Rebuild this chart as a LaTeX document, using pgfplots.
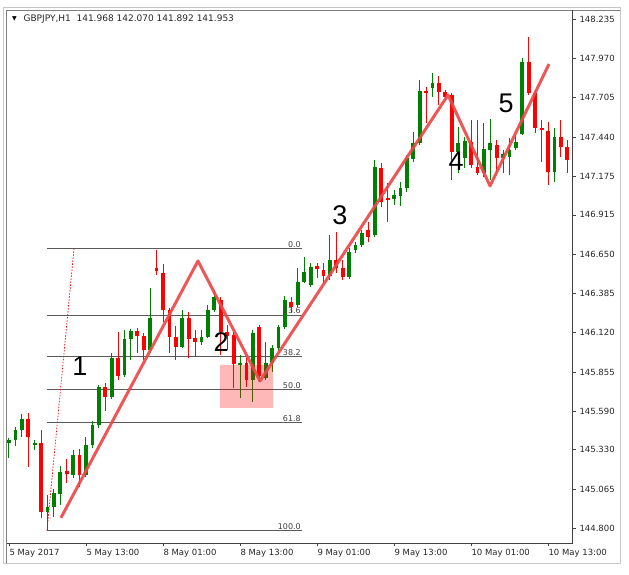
\documentclass[border=0pt]{standalone}
\usepackage{pgfplots}
\pgfplotsset{compat=1.18}
\usepackage{pgfplotstable}
\usepackage{fontspec}
\setmainfont{DejaVu Sans}
\newfontfamily\arialfont{Liberation Sans}
\definecolor{bull}{RGB}{0,128,0}
\definecolor{bear}{RGB}{255,0,0}
\definecolor{zig}{RGB}{234,74,74}
\definecolor{fibgray}{RGB}{90,90,90}

% GBPJPY H1 candles: index, open, high, low, close
\pgfplotstableread{
x o h l c
0 145.376 145.409 145.274 145.396
1 145.396 145.484 145.355 145.463
2 145.463 145.571 145.416 145.538
4 145.369 145.396 145.328 145.376
6 144.910 145.025 144.788 144.944
7 144.944 145.065 144.876 145.038
8 145.031 145.220 144.957 145.180
10 145.160 145.328 145.139 145.295
12 145.160 145.416 145.146 145.362
13 145.362 145.521 145.342 145.497
14 145.497 145.767 145.477 145.753
16 145.686 145.983 145.673 145.949
18 145.834 146.138 145.821 146.077
19 146.077 146.145 145.936 146.131
22 146.003 146.422 145.983 146.219
27 146.023 146.273 146.017 146.219
30 146.057 146.138 146.037 146.091
31 146.091 146.307 146.084 146.273
32 146.273 146.408 146.260 146.361
36 145.902 145.969 145.679 145.915
38 145.801 146.138 145.652 146.118
40 145.814 146.057 145.801 145.915
41 145.915 146.037 145.855 146.017
42 146.017 146.172 145.990 146.158
43 146.158 146.368 146.145 146.341
45 146.307 146.557 146.293 146.462
46 146.462 146.631 146.455 146.530
47 146.442 146.590 146.428 146.563
50 146.503 146.779 146.476 146.611
53 146.496 146.692 146.482 146.665
54 146.678 146.732 146.658 146.712
55 146.712 146.813 146.698 146.793
57 146.779 147.285 146.766 147.238
60 147.022 147.083 146.982 147.049
61 147.042 147.137 146.975 147.096
62 147.096 147.319 147.069 147.299
63 147.292 147.474 147.272 147.400
64 147.400 147.825 147.387 147.751
66 147.771 147.873 147.711 147.805
70 147.339 147.508 147.198 147.400
71 147.299 147.441 147.231 147.414
74 147.198 147.535 147.171 147.360
75 147.353 147.562 147.150 147.400
77 147.299 147.353 147.198 147.326
78 147.306 147.434 147.184 147.353
79 147.366 147.454 147.353 147.407
80 147.461 147.974 147.454 147.947
85 147.204 147.501 147.137 147.441
}\bulls

\pgfplotstableread{
x o h l c
3 145.538 145.578 145.214 145.416
5 145.376 145.463 144.869 144.910
9 145.187 145.268 145.106 145.166
11 145.295 145.335 145.079 145.160
15 145.753 145.780 145.592 145.686
17 145.949 146.125 145.801 145.828
20 146.131 146.152 145.983 146.098
21 146.098 146.118 145.936 146.003
23 146.557 146.678 146.509 146.536
24 146.523 146.584 146.192 146.273
25 146.273 146.287 145.983 146.091
26 146.091 146.165 145.936 146.023
28 146.219 146.260 145.949 146.077
29 146.084 146.138 145.956 146.057
33 146.341 146.361 145.969 146.125
34 146.125 146.172 146.003 146.098
35 146.104 146.125 145.747 145.909
37 145.915 145.949 145.753 145.801
39 146.158 146.172 145.787 145.828
44 146.327 146.361 146.253 146.293
48 146.570 146.590 146.489 146.550
49 146.543 146.590 146.455 146.503
51 146.611 146.800 146.523 146.557
52 146.557 146.611 146.476 146.496
56 146.813 146.867 146.732 146.766
58 147.231 147.265 146.968 147.002
59 147.029 147.130 146.867 147.015
65 147.751 147.778 147.535 147.738
67 147.805 147.852 147.657 147.744
68 147.744 147.758 147.690 147.711
69 147.724 147.738 147.150 147.339
72 147.407 147.555 147.231 147.252
73 147.238 147.555 147.184 147.198
76 147.387 147.420 147.204 147.299
81 147.947 148.116 147.724 147.738
82 147.738 147.758 147.468 147.501
83 147.501 147.555 147.272 147.488
84 147.481 147.542 147.117 147.204
86 147.441 147.555 147.306 147.373
87 147.373 147.420 147.198 147.285
}\bears

\begin{document}
\begin{tikzpicture}
% window frame
\draw[black!22, line width=1pt] (3.5pt,-563pt) -- (3.5pt,-7.5pt) -- (620pt,-7.5pt) -- (620pt,-563pt) -- cycle;
\draw[black!50, line width=1pt] (6.5pt,-563pt) -- (6.5pt,-10pt) -- (620pt,-10pt);

\begin{axis}[
  at={(7pt,-543pt)}, anchor=south west,
  scale only axis, width=565.5pt, height=533pt,
  xmin=-0.31, xmax=87.81, ymin=144.7007, ymax=148.2977,
  enlargelimits=false,
  axis x line=bottom, axis y line=right,
  axis line style={-, draw=black!75, line width=0.9pt},
  tick align=outside, major tick length=3pt,
  tick style={black!75, line width=0.7pt},
  tick label style={font=\fontsize{8.5}{10}\selectfont, text=black!85},
  xtick={0,12,...,84},
  xticklabels={5 May 2017, 5 May 13:00, 8 May 01:00, 8 May 13:00, 9 May 01:00, 9 May 13:00, 10 May 01:00, 10 May 13:00},
  xticklabel style={anchor=west, xshift=-3pt, yshift=-7.5pt},
  ytick={148.235,147.970,147.705,147.440,147.175,146.915,146.650,146.385,146.120,145.855,145.590,145.330,145.065,144.800},
  yticklabels={148.235,147.970,147.705,147.440,147.175,146.915,146.650,146.385,146.120,145.855,145.590,145.330,145.065,144.800},
  yticklabel style={anchor=west, xshift=0.5pt},
  candle/.style={only marks, mark=*, mark size=0pt, mark options={draw=none, fill=none},
    error bars/.cd, y dir=both, y explicit, error mark=none},
]
% fibonacci levels
\addplot[fibgray, line width=0.9pt] coordinates {(5.92,146.687) (45.66,146.687)};
\addplot[fibgray, line width=0.9pt] coordinates {(5.92,146.238) (45.66,146.238)};
\addplot[fibgray, line width=0.9pt] coordinates {(5.92,145.960) (45.66,145.960)};
\addplot[fibgray, line width=0.9pt] coordinates {(5.92,145.735) (45.66,145.735)};
\addplot[fibgray, line width=0.9pt] coordinates {(5.92,145.511) (45.66,145.511)};
\addplot[fibgray, line width=0.9pt] coordinates {(5.92,144.784) (45.66,144.784)};
\addplot[bear, line width=0.7pt, dash pattern=on 1.5pt off 1.5pt] coordinates {(5.92,144.784) (10.13,146.687)};

% wicks
\addplot[candle, error bar style={line width=1pt, draw=bull}]
  table[x=x, y expr={(\thisrow{h}+\thisrow{l})/2}, y error expr={(\thisrow{h}-\thisrow{l})/2}] {\bulls};
\addplot[candle, error bar style={line width=1pt, draw=bear}]
  table[x=x, y expr={(\thisrow{h}+\thisrow{l})/2}, y error expr={(\thisrow{h}-\thisrow{l})/2}] {\bears};
% bodies
\addplot[candle, error bar style={line width=3.8pt, draw=bull}]
  table[x=x, y expr={(\thisrow{o}+\thisrow{c})/2}, y error expr={max(abs(\thisrow{c}-\thisrow{o})/2,0.004)}] {\bulls};
\addplot[candle, error bar style={line width=3.8pt, draw=bear}]
  table[x=x, y expr={(\thisrow{o}+\thisrow{c})/2}, y error expr={max(abs(\thisrow{c}-\thisrow{o})/2,0.004)}] {\bears};

% highlighted zone
\addplot[draw=none, fill=red, fill opacity=0.28] coordinates {(32.88,145.612) (41.14,145.612) (41.14,145.902) (32.88,145.902) (32.88,145.612)};

% wave path
\addplot[zig, line width=3pt, line join=round, opacity=0.92] coordinates {(8.10,144.871) (29.45,146.604) (39.11,145.794) (68.41,147.724) (74.96,147.110) (84.15,147.933)};

% fib labels
\begin{scope}[every node/.style={anchor=south east, inner sep=1pt, font=\fontsize{8}{9}\selectfont, text=black!75}]
\node at (axis cs:45.66,146.687) {0.0};
\node at (axis cs:45.66,146.238) {23.6};
\node at (axis cs:45.66,145.960) {38.2};
\node at (axis cs:45.66,145.735) {50.0};
\node at (axis cs:45.66,145.511) {61.8};
\node at (axis cs:45.66,144.784) {100.0};
\end{scope}

% wave numbers
\begin{scope}[every node/.style={font=\arialfont\fontsize{27}{27}\selectfont, inner sep=0pt}]
\node at (axis cs:11.06,145.895) {1};
\node at (axis cs:33.04,146.057) {2};
\node at (axis cs:51.58,146.914) {3};
\node at (axis cs:69.66,147.279) {4};
\node at (axis cs:77.45,147.670) {5};
\end{scope}
\end{axis}

\node[font=\fontsize{6}{6}\selectfont, inner sep=0pt] at (14.5pt,-19pt) {▼};
\node[anchor=west, font=\fontsize{9}{10}\selectfont, text=black!85] at (20pt,-19pt) {GBPJPY,H1\ \ 141.968 142.070 141.892 141.953};

\pgfresetboundingbox
\path[use as bounding box] (0pt,0pt) rectangle (629pt,-574pt);
\end{tikzpicture}
\end{document}
